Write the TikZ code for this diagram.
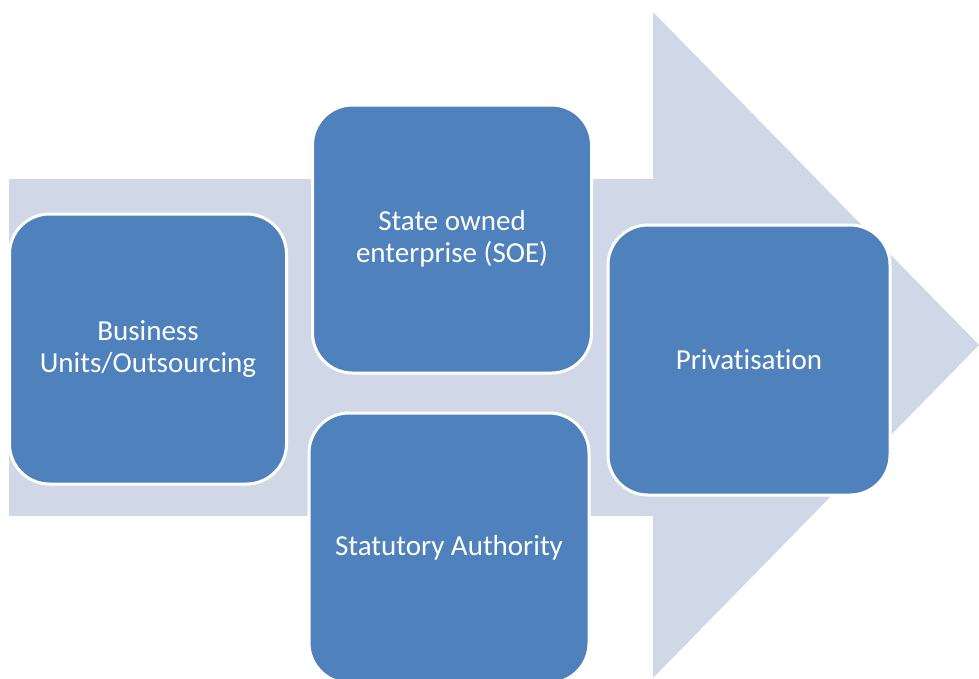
\documentclass[tikz,border=0pt]{standalone}
\usepackage{fontspec}
\setmainfont[Ligatures=NoCommon]{Carlito}
\usetikzlibrary{positioning}
\definecolor{boxblue}{HTML}{4F81BD}
\definecolor{arrowgray}{HTML}{D0D8E8}

\begin{document}
\begin{tikzpicture}[x=1pt, y=-1pt,
    stage/.style={rectangle, rounded corners=40pt, fill=boxblue, draw=white,
        line width=3pt, text=white, align=center,
        font=\fontsize{29}{32}\selectfont, minimum width=277pt, minimum height=270pt}]
        \useasboundingbox (0,0) rectangle (979,678);
        % big background arrow
        \fill[arrowgray] (9,179) -- (653,179) -- (653,12) -- (979,345)
            -- (653,678) -- (653,516) -- (9,516) -- cycle;

        \node[stage] (biz) at (148,349) {Business\\Units/Outsourcing};
        \node[stage, minimum width=279pt, minimum height=268pt] (soe) at (452,239) {State owned\\enterprise (SOE)};
        \node[stage, minimum width=280pt] (stat) at (449,548) {Statutory Authority};
        \node[stage, minimum width=282pt] (priv) at (749,360) {Privatisation};
    \end{tikzpicture}
\end{document}
